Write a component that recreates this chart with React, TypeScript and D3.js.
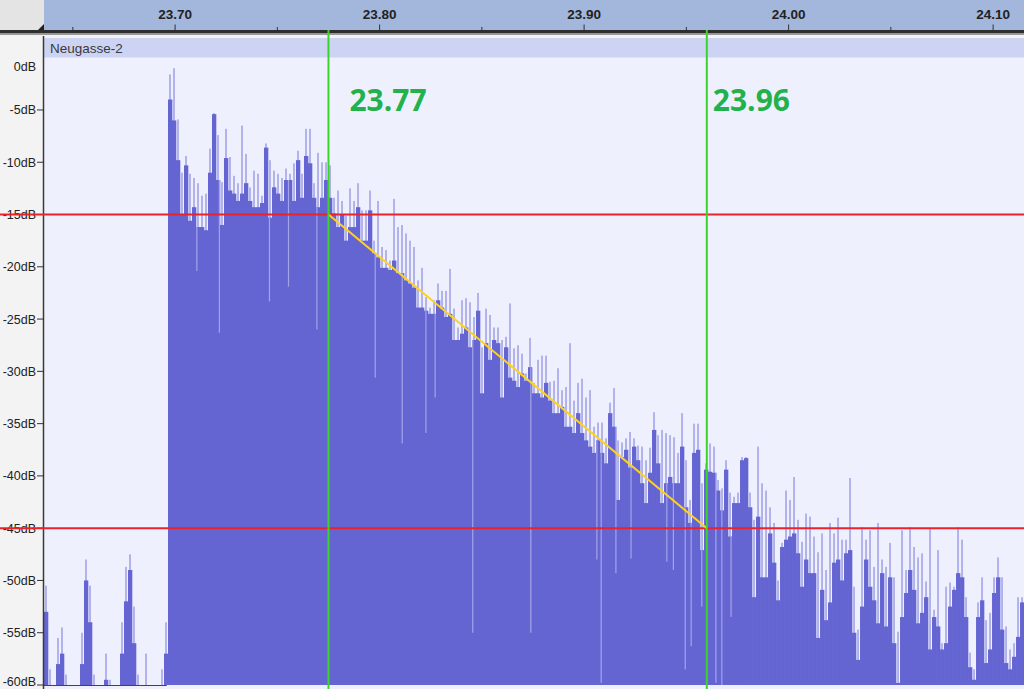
import React from "react";
import * as d3 from "d3";

// ---- Data ----
const xMajorTicks = [23.7, 23.8, 23.9, 24.0, 24.1];
const xMajorLabels = ["23.70", "23.80", "23.90", "24.00", "24.10"];
const xMinorTicks = [23.65, 23.75, 23.85, 23.95, 24.05];
const yTicks = [0, -5, -10, -15, -20, -25, -30, -35, -40, -45, -50, -55, -60];
const yTickLabels = ["0dB", "-5dB", "-10dB", "-15dB", "-20dB", "-25dB", "-30dB", "-35dB", "-40dB", "-45dB", "-50dB", "-55dB", "-60dB"];
const trackName = "Neugasse-2";

// waveform columns, uniformly spaced in time
const SAMPLE_START = 23.6359;
const SAMPLE_STEP = 0.001956;

const peakDb = [
  // low-level noise before the burst
  -50.5, -58.5, -60, -55.5, -54.5, -59, -60, -60, -60, -55, -48, -50.5, -59, -60, -60, -57,
  -59.5, -60, -60, -54, -48.7, -47.5, -52.5, -59, -60, -57, -60, -60, -60, -58.5, -54,
  // burst and decay
  -1.6, -1.0, -5.9, -11, -9.4, -11.1, -11.5, -12.0, -13.2, -13.0,
  -8.7, -5.3, -7.4, -11.9, -6.8, -9.5, -11.3, -12.0, -6.5, -9.2,
  -12.4, -10.8, -11.1, -13.2, -8.2, -9.8, -10.8, -11.1, -11.5, -10.6,
  -11.1, -10.1, -8.9, -11.1, -6.8, -6.8, -12.0, -9.1, -10.0, -10.0,
  -10.3, -13.4, -12.7, -13.7, -15.1, -12.5, -13.7, -12.0, -14.6, -14.6,
  -12.7, -17.5, -13.7, -18.1, -18.4, -19.4, -13.5, -16.2, -16.0, -16.8,
  -17.5, -18.1, -21.3, -20.1, -22.9, -23.9, -23.2, -21.6, -22.3, -22.3,
  -20.2, -24.0, -25.8, -23.2, -23.0, -23.4, -24.8, -22.5, -27.7, -24.0,
  -24.6, -25.8, -25.8, -27.0, -26.7, -23.5, -27.8, -27.5, -28.3, -30.2,
  -26.8, -31.1, -28.9, -28.5, -28.5, -31.0, -30.9, -29.7, -31.8, -31.5,
  -27.3, -32.8, -31.1, -30.7, -32.5, -31.8, -35.3, -34.9, -34.9, -36.4,
  -33.0, -31.6, -36.6, -36.8, -36.4, -35.8, -36.4, -37.1, -37.2, -38.5,
  -37.3, -33.9, -36.1, -35.6, -35.9, -36.1, -36.3, -37.8, -34.0, -38.5,
  -42.3, -35.0, -35.0, -40.7, -38.8, -36.9, -37.2, -40.4, -41.2, -38.5,
  -41.6, -42.0, -41.6, -38.2, -38.2, -41.6, -44.2, -37.2, -40.7, -41.4,
  -43.0, -44.5, -50.0, -46.4, -41.4, -42.3, -40.1, -44.2, -46.3, -43.6,
  -43.9, -45.8, -47.3, -45.5, -49.0, -44.5, -45.5, -44.0, -46.1, -46.1,
  -40.2, -50.6, -54.7, -44.9, -46.1, -45.2, -48.7, -44.5, -48.0, -48.7,
  -46.4, -49.7, -54.9, -45.2, -49.0, -44.9, -46.8, -47.8, -47.4, -50.1,
  -45.0, -52.8, -47.1, -56.0, -50.6, -50.2, -50.6, -44.9, -46.1, -51.6,
  -56.9, -58.5, -52.1, -49.7, -53.8, -53.1, -49.7, -47.8, -49.7, -54.4,
  -56.6, -56.0, -51.6, -51.6,
];

const bodyDb = [
  -53, -60, -60, -58, -57, -60, -60, -60, -60, -58, -50, -54, -60, -60, -60, -59.5,
  -60, -60, -60, -57, -52, -49, -56, -60, -60, -60, -60, -60, -60, -60, -57,
  -4, -6, -9.8, -15, -10.3, -15.6, -14.3, -16.2, -16.2, -16.5,
  -11.0, -5.4, -11.7, -16.0, -9.6, -12.7, -13.0, -13.7, -13.0, -12.0,
  -13.7, -14.3, -14.3, -13.9, -8.6, -15.3, -12.4, -13.0, -13.7, -11.7,
  -11.7, -13.7, -9.8, -13.4, -9.4, -10.1, -13.4, -14.3, -13.4, -11.7,
  -13.4, -14.9, -16.2, -15.0, -17.5, -16.2, -16.2, -14.3, -17.5, -17.5,
  -14.6, -18.7, -19.1, -20.1, -20.1, -20.3, -19.4, -20.6, -20.6, -21.3,
  -21.6, -22.0, -23.9, -23.9, -24.2, -24.5, -24.5, -23.2, -23.9, -24.8,
  -24.5, -27.0, -27.0, -26.4, -25.8, -27.7, -27.0, -24.2, -32.1, -27.3,
  -28.9, -27.0, -27.3, -32.5, -27.7, -30.6, -30.9, -31.5, -30.2, -30.9,
  -29.6, -32.1, -32.1, -32.5, -31.1, -32.8, -34.0, -34.0, -33.4, -35.3,
  -35.3, -35.9, -34.0, -35.9, -36.6, -37.2, -37.8, -36.6, -37.8, -38.8,
  -34.0, -35.3, -42.3, -38.2, -37.5, -39.2, -37.2, -38.5, -40.7, -42.6,
  -39.7, -35.6, -38.8, -42.6, -40.7, -40.1, -40.7, -40.7, -37.2, -43.0,
  -44.5, -37.8, -37.5, -47.1, -39.4, -39.6, -39.7, -41.4, -43.3, -39.4,
  -45.8, -42.6, -42.6, -38.5, -38.3, -43.0, -51.6, -43.9, -49.7, -49.7,
  -45.5, -48.3, -51.9, -46.8, -46.1, -45.8, -45.5, -47.4, -50.6, -48.0,
  -49.3, -49.3, -55.5, -50.9, -53.8, -52.1, -48.3, -48.0, -50.0, -47.4,
  -47.1, -55.0, -57.6, -52.5, -48.0, -50.6, -51.9, -54.1, -49.3, -54.4,
  -49.7, -56.0, -59.8, -53.5, -51.2, -49.0, -50.9, -54.1, -53.1, -51.6,
  -56.6, -53.5, -54.4, -56.6, -56.0, -52.5, -50.9, -49.3, -49.7, -53.5,
  -58.3, -59.5, -53.5, -51.9, -57.9, -56.6, -51.2, -49.7, -54.7, -57.9,
  -58.5, -57.3, -55.4, -52.1,
];

// narrow deep notches (light lines cutting through the dark body)
const dipTimes = [
  23.7106, 23.7216, 23.7461, 23.7554, 23.7693, 23.7978, 23.811, 23.8226, 23.8271, 23.8455,
  23.8739, 23.9062, 23.9083, 23.9155, 23.9229, 23.9404, 23.9436, 23.9494, 23.9523, 23.9575,
  23.9644, 23.9673, 23.9718,
];
const dipDb = [
  -20.4, -26.3, -23.3, -21.9, -26, -30.6, -36.9, -35.9, -32.5, -55,
  -55, -48, -59.8, -49.3, -47.9, -48.2, -49, -58.5, -56.3, -52.5,
  -59.8, -60, -53.5,
];

// annotations
const markerTimes = [23.775, 23.96];
const markerLabels = ["23.77", "23.96"];
const refLevelsDb = [-15, -45];
const decayTimes = [23.775, 23.96];
const decayDb = [-15, -45];

export default function App() {
  const W = 1024;
  const H = 689;
  const plotLeft = 44;
  const plotTop = 57.7;
  const plotBottom = 685;

  const x = d3.scaleLinear().domain([23.6359, 24.1151]).range([plotLeft, W]);
  const y = d3.scaleLinear().domain([0, -60]).range([plotTop, plotBottom]);

  const dark = "#6464D2";
  const light = "#A4A4E8";
  const bg = "#EEF1FD";

  const cols = peakDb.map((p, i) => {
    const t0 = SAMPLE_START + i * SAMPLE_STEP;
    const x0 = x(t0);
    const x1 = x(t0 + SAMPLE_STEP);
    return { x0, x1, p, b: bodyDb[i] };
  });

  const decayLine = d3.line<number>()
    .x((_, i) => x(decayTimes[i]))
    .y((d) => y(d));

  const labelDx = [21, 6];

  return (
    <svg width={W} height={H} style={{ position: "absolute", left: 0, top: 0 }} fontFamily="'Liberation Sans', Arial, sans-serif">
      <defs>
        <clipPath id="plotClip">
          <rect x={plotLeft} y={36} width={W - plotLeft} height={H - 36} />
        </clipPath>
      </defs>
      {/* page background */}
      <rect x={0} y={0} width={W} height={H} fill="#F3F3F3" />
      {/* header ruler */}
      <rect x={0} y={0} width={plotLeft} height={31} fill="#E4E4E4" />
      <rect x={plotLeft} y={0} width={W - plotLeft} height={31} fill="#A3B6DC" />
      <path d={`M${plotLeft - 6},30 L${plotLeft},30 L${plotLeft},24 Z`} fill="#222" />
      <rect x={0} y={30} width={W} height={3.5} fill="#2E2E2E" />
      <rect x={0} y={33.5} width={W} height={1.5} fill="#9A9A9A" />
      {xMinorTicks.map((t) => (
        <line key={"mn" + t} x1={x(t)} x2={x(t)} y1={27} y2={30} stroke="#333" strokeWidth={1} />
      ))}
      {xMajorTicks.map((t, i) => (
        <g key={"mj" + t}>
          <line x1={x(t)} x2={x(t)} y1={24.5} y2={30} stroke="#333" strokeWidth={1} />
          <text x={x(t)} y={18.5} textAnchor="middle" fontSize={13.5} fontWeight="bold" fill="#222">
            {xMajorLabels[i]}
          </text>
        </g>
      ))}

      {/* track label bar and plot background */}
      <rect x={plotLeft} y={38} width={W - plotLeft} height={plotTop - 38} fill="#CDD3F3" />
      <text x={50} y={53} fontSize={13.5} fill="#3A3A3A">{trackName}</text>
      <rect x={plotLeft} y={plotTop} width={W - plotLeft} height={H - plotTop} fill={bg} />

      {/* waveform */}
      <g clipPath="url(#plotClip)">
        {cols.map((c, i) => (
          <g key={"c" + i}>
            {c.p > -60 && (
              <rect x={(c.x0 + c.x1) / 2 - 0.8} y={y(c.p)} width={1.6} height={Math.max(0, plotBottom - y(c.p))} fill={light} />
            )}
            {c.b > -60 && (
              <rect x={c.x0} y={y(c.b)} width={c.x1 - c.x0 + 0.3} height={Math.max(0, plotBottom - y(c.b))} fill={dark} />
            )}
          </g>
        ))}
        {dipTimes.map((t, i) => {
          const idx = Math.floor((t - SAMPLE_START) / SAMPLE_STEP);
          const top = y(bodyDb[idx]);
          const bot = y(dipDb[i]);
          return bot > top ? (
            <rect key={"d" + i} x={x(t) - 0.5} y={top} width={1.2} height={bot - top} fill={light} />
          ) : null;
        })}
        <line x1={plotLeft} x2={x(23.6959)} y1={plotBottom + 0.5} y2={plotBottom + 0.5} stroke="#444" strokeWidth={1} />
      </g>

      {/* vertical axis */}
      <line x1={plotLeft - 0.5} x2={plotLeft - 0.5} y1={36} y2={H} stroke="#3A3A3A" strokeWidth={1.5} />
      {yTicks.map((v, i) => (
        <g key={"yt" + v}>
          {v !== 0 && (
            <line x1={37} x2={plotLeft} y1={y(v)} y2={y(v)} stroke="#333" strokeWidth={1} />
          )}
          <text x={36} y={v === 0 ? 71 : Math.min(y(v) + 4.5, 685.5)} textAnchor="end" fontSize={12.5} fill="#222">
            {yTickLabels[i]}
          </text>
        </g>
      ))}

      {/* reference levels */}
      {refLevelsDb.map((v) => (
        <line key={"r" + v} x1={0} x2={W} y1={y(v)} y2={y(v)} stroke="#E8232B" strokeWidth={2} />
      ))}
      {/* decay line */}
      <path d={decayLine(decayDb) || ""} fill="none" stroke="#FFD21F" strokeWidth={2} />
      {/* time markers */}
      {markerTimes.map((t, i) => (
        <g key={"m" + t}>
          <line x1={x(t)} x2={x(t)} y1={30} y2={H} stroke="#3CD42A" strokeWidth={2} />
          <text x={x(t) + labelDx[i]} y={111} fontSize={30} fontWeight="bold" fill="#22B14C" fontFamily="'Open Sans', sans-serif">
            {markerLabels[i]}
          </text>
        </g>
      ))}
    </svg>
  );
}
